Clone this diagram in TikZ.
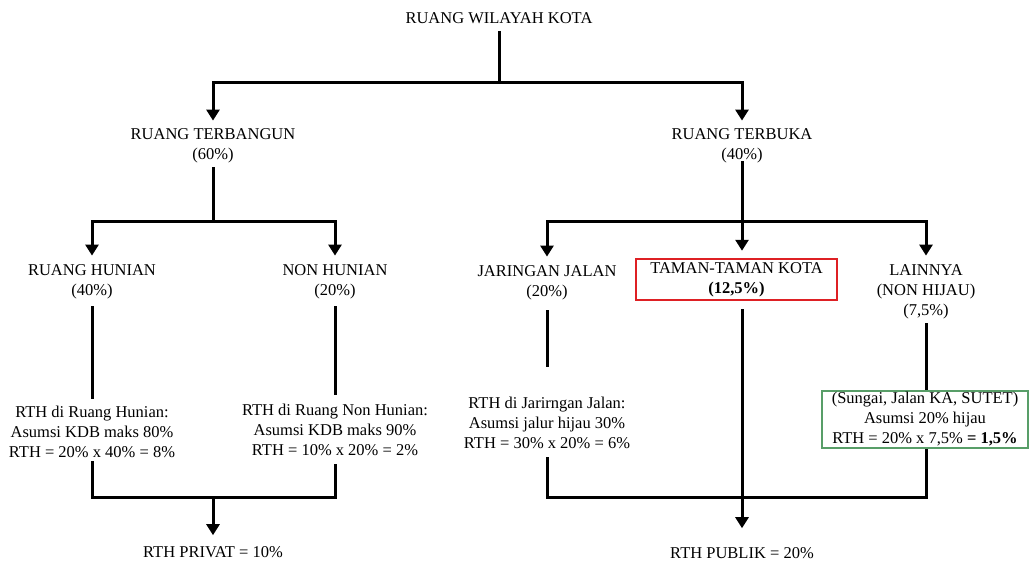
\documentclass[tikz,border=0pt]{standalone}
\usepackage{fontspec}
\setmainfont{Liberation Serif}
\usetikzlibrary{arrows.meta,
                calc,
                positioning}
\definecolor{boxred}{RGB}{222,32,36}
\definecolor{boxgreen}{RGB}{88,158,104}

\begin{document}
\begin{tikzpicture}[
        x=1pt, y=-1pt,
        txt/.style={align=center, font=\fontsize{16.5}{20}\selectfont, inner sep=1pt},
        link/.style={line width=3pt, draw=black},
        arrow/.style={link, -{Triangle[length=11pt, width=13pt]}},
        redbox/.style={txt, draw=boxred, line width=2.5pt, minimum width=201pt, minimum height=41pt},
        greenbox/.style={txt, draw=boxgreen, line width=1.5pt, minimum width=206pt, minimum height=57pt}
        ]
        \useasboundingbox (0,0) rectangle (1030,563);

        \node (root)         [txt]      at (499,18)    {RUANG WILAYAH KOTA};
        \node (terbangun)    [txt]      at (213,146)   {RUANG TERBANGUN\\(60\%)};
        \node (terbuka)      [txt]      at (742,146)   {RUANG TERBUKA\\(40\%)};
        \node (hunian)       [txt]      at (92,282)    {RUANG HUNIAN\\(40\%)};
        \node (nonhunian)    [txt]      at (335,282)   {NON HUNIAN\\(20\%)};
        \node (jalan)        [txt]      at (547,283)   {JARINGAN JALAN\\(20\%)};
        \node (taman)        [redbox]   at (736.5,279.5) {TAMAN-TAMAN KOTA\\\textbf{(12,5\%)}};
        \node (lainnya)      [txt]      at (926,292)   {LAINNYA\\(NON HIJAU)\\(7,5\%)};
        \node (rthhunian)    [txt]      at (92,432)    {RTH di Ruang Hunian:\\Asumsi KDB maks 80\%\\RTH = 20\% x 40\% = 8\%};
        \node (rthnonhunian) [txt]      at (335,430)   {RTH di Ruang Non Hunian:\\Asumsi KDB maks 90\%\\RTH = 10\% x 20\% = 2\%};
        \node (rthjalan)     [txt]      at (547,423)   {RTH di Jarirngan Jalan:\\Asumsi jalur hijau 30\%\\RTH = 30\% x 20\% = 6\%};
        \node (rthlain)      [greenbox] at (925,419.5) {(Sungai, Jalan KA, SUTET)\\Asumsi 20\% hijau\\RTH = 20\% x 7,5\% \textbf{= 1,5\%}};
        \node (privat)       [txt]      at (213,552)   {RTH PRIVAT = 10\%};
        \node (publik)       [txt]      at (742,553)   {RTH PUBLIK = 20\%};

        \coordinate (split1) at (499,82);
        \coordinate (split2) at (213,221);
        \coordinate (split3) at (742,221);
        \coordinate (merge1) at (213,497);
        \coordinate (merge2) at (742,497);

        % first split
        \draw [link]  ([yshift=-6pt]root.south) -- (split1);
        \draw [arrow] (split1) -| ([yshift=7pt]terbangun.north);
        \draw [arrow] (split1) -| ([yshift=7pt]terbuka.north);

        % ruang terbangun
        \draw [link]  ([yshift=-3pt]terbangun.south) -- (split2);
        \draw [arrow] (split2) -| ([yshift=8pt]hunian.north);
        \draw [arrow] (split2) -| ([yshift=8pt]nonhunian.north);

        % ruang terbuka
        \draw [arrow] ([yshift=3pt]terbuka.south) -- ([yshift=7pt]taman.north -| split3);
        \draw [arrow] (split3) -| ([yshift=8pt]jalan.north);
        \draw [arrow] (split3) -| ([yshift=8pt]lainnya.north);

        % down to the RTH blocks
        \draw [link] ([yshift=-6pt]hunian.south) -- ([yshift=6pt]rthhunian.north);
        \draw [link] ([yshift=-6pt]nonhunian.south) -- ([yshift=8pt]rthnonhunian.north);
        \draw [link] ([yshift=-9pt]jalan.south) -- ([yshift=29pt]rthjalan.north);
        \draw [link] ([yshift=-3pt]lainnya.south) -- (rthlain.north -| lainnya);

        % rth privat
        \draw [link]  ([yshift=-2pt]rthhunian.south) |- (merge1);
        \draw [link]  ([yshift=-7pt]rthnonhunian.south) |- (merge1);
        \draw [arrow] (merge1) -- ([yshift=10pt]privat.north);

        % rth publik
        \draw [link]  ([yshift=-7pt]rthjalan.south) |- (merge2);
        \draw [link]  (rthlain.south -| lainnya) |- (merge2);
        \draw [arrow] ([yshift=-8pt]taman.south -| split3) -- ([yshift=18pt]publik.north);

    \end{tikzpicture}
\end{document}
